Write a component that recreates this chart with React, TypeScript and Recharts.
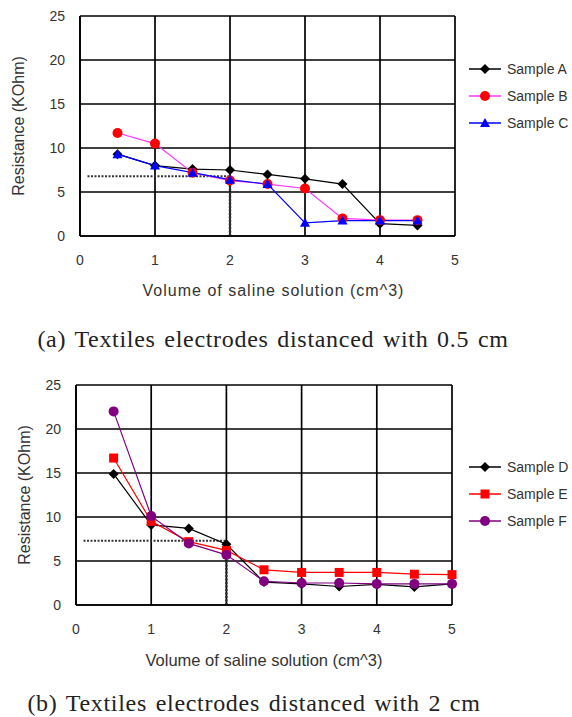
import React from 'react';
import {
  LineChart,
  Line,
  XAxis,
  YAxis,
  CartesianGrid,
  Legend,
  ReferenceLine,
  Label,
} from 'recharts';

// volumes (cm^3)
const volumesA = [0.5, 1, 1.5, 2, 2.5, 3, 3.5, 4, 4.5];
const volumesB = [0.5, 1, 1.5, 2, 2.5, 3, 3.5, 4, 4.5, 5];

// chart (a) - 0.5 cm
const sampleA = [9.3, 8.0, 7.6, 7.5, 7.0, 6.5, 5.9, 1.4, 1.2];
const sampleB = [11.7, 10.5, 7.2, 6.3, 5.9, 5.4, 2.0, 1.8, 1.8];
const sampleC = [9.3, 8.0, 7.2, 6.4, 5.9, 1.5, 1.75, 1.75, 1.75];

// chart (b) - 2 cm
const sampleD = [14.9, 9.1, 8.7, 6.9, 2.6, 2.4, 2.1, 2.35, 2.05, 2.4];
const sampleE = [16.7, 9.5, 7.2, 6.2, 4.0, 3.7, 3.7, 3.7, 3.5, 3.45];
const sampleF = [22.0, 10.1, 7.0, 5.7, 2.7, 2.5, 2.5, 2.4, 2.4, 2.4];

const xTicks = [0, 1, 2, 3, 4, 5];
const yTicks = [0, 5, 10, 15, 20, 25];

const dataA = volumesA.map((v, i) => ({ v, A: sampleA[i], B: sampleB[i], C: sampleC[i] }));
const dataB = volumesB.map((v, i) => ({ v, D: sampleD[i], E: sampleE[i], F: sampleF[i] }));

type Shape = 'diamond' | 'circle' | 'triangle' | 'square';
type Series = { key: string; name: string; line: string; fill: string; shape: Shape };

const seriesA: Series[] = [
  { key: 'A', name: 'Sample A', line: '#000000', fill: '#000000', shape: 'diamond' },
  { key: 'B', name: 'Sample B', line: '#ff33ff', fill: '#ff0000', shape: 'circle' },
  { key: 'C', name: 'Sample C', line: '#0000ff', fill: '#0000ff', shape: 'triangle' },
];
const seriesB: Series[] = [
  { key: 'D', name: 'Sample D', line: '#000000', fill: '#000000', shape: 'diamond' },
  { key: 'E', name: 'Sample E', line: '#ff0000', fill: '#ff0000', shape: 'square' },
  { key: 'F', name: 'Sample F', line: '#800080', fill: '#800080', shape: 'circle' },
];

const font = '"Liberation Sans", Arial, sans-serif';
const textColor = '#333';

function marker(shape: Shape, cx: number, cy: number, fill: string, key?: string) {
  if (shape === 'diamond')
    return <polygon key={key} points={`${cx},${cy - 5} ${cx + 5},${cy} ${cx},${cy + 5} ${cx - 5},${cy}`} fill={fill} />;
  if (shape === 'triangle')
    return <polygon key={key} points={`${cx},${cy - 5} ${cx + 5},${cy + 4} ${cx - 5},${cy + 4}`} fill={fill} />;
  if (shape === 'square')
    return <rect key={key} x={cx - 4.5} y={cy - 4.5} width={9} height={9} fill={fill} />;
  return <circle key={key} cx={cx} cy={cy} r={5} fill={fill} />;
}

function makeDot(s: Series) {
  return (p: any) => marker(s.shape, p.cx, p.cy, s.fill, `${s.key}-${p.index}`);
}

function LegendBox({ series }: { series: Series[] }) {
  return (
    <div style={{ fontFamily: font, fontSize: 14, color: textColor }}>
      {series.map((s) => (
        <div key={s.key} style={{ display: 'flex', alignItems: 'center', height: 27 }}>
          <svg width={34} height={12}>
            <line x1={0} y1={6} x2={32} y2={6} stroke={s.line} strokeWidth={1.5} />
            {marker(s.shape, 16, 6, s.fill)}
          </svg>
          <span style={{ marginLeft: 4 }}>{s.name}</span>
        </div>
      ))}
    </div>
  );
}

type ChartProps = {
  data: any[];
  series: Series[];
  top: number;
  left: number;
  right: number;
  marginTop: number;
  guideY: number;
  legendTop: number;
  yLabelX: number;
  xLabelFont: number;
  xLabelSpacing: number;
  xLabelDx: number;
};

function Chart(props: ChartProps) {
  const { data, series, top, left, right, marginTop, guideY, legendTop, yLabelX } = props;
  return (
    <div style={{ position: 'absolute', top, left: 0 }}>
      <LineChart
        width={572}
        height={300}
        data={data}
        margin={{ top: marginTop, right: 572 - right, left: 0, bottom: 0 }}
      >
        <CartesianGrid stroke="#000" strokeWidth={1.7} />
        <XAxis
          dataKey="v"
          type="number"
          domain={[0, 5]}
          ticks={xTicks}
          tickLine={false}
          tickSize={0}
          tickMargin={19}
          axisLine={{ stroke: '#000', strokeWidth: 1.7 }}
          tick={{ fill: textColor, fontSize: 14, fontFamily: font }}
          height={300 - marginTop - 220}
        >
          <Label
            value="Volume of saline solution (cm^3)"
            position="insideBottom"
            offset={4}
            dx={props.xLabelDx}
            style={{
              fill: textColor,
              fontSize: props.xLabelFont,
              fontFamily: font,
              letterSpacing: props.xLabelSpacing,
            }}
          />
        </XAxis>
        <YAxis
          type="number"
          domain={[0, 25]}
          ticks={yTicks}
          width={left}
          tickLine={false}
          tickSize={0}
          tickMargin={15}
          axisLine={{ stroke: '#000', strokeWidth: 1.7 }}
          tick={{ fill: textColor, fontSize: 14, fontFamily: font }}
        >
          <Label
            value="Resistance (KOhm)"
            angle={-90}
            position="insideLeft"
            offset={yLabelX}
            textAnchor="middle"
            style={{ fill: textColor, fontSize: 16, fontFamily: font, textAnchor: 'middle' }}
          />
        </YAxis>
        <ReferenceLine
          segment={[{ x: 0.1, y: guideY }, { x: 2, y: guideY }]}
          stroke="#333"
          strokeWidth={2}
          strokeDasharray="2 1.5"
        />
        <ReferenceLine
          segment={[{ x: 2, y: 0 }, { x: 2, y: guideY }]}
          stroke="#333"
          strokeWidth={2.5}
          strokeDasharray="2 1.5"
        />
        {series.map((s) => (
          <Line
            key={s.key}
            type="linear"
            dataKey={s.key}
            name={s.name}
            stroke={s.line}
            strokeWidth={1.2}
            dot={makeDot(s)}
            activeDot={false}
            isAnimationActive={false}
          />
        ))}
        <Legend
          layout="vertical"
          align="center"
          verticalAlign="middle"
          wrapperStyle={{ left: 469, top: legendTop, width: 110 }}
          content={() => <LegendBox series={series} />}
        />
      </LineChart>
    </div>
  );
}

const captionStyle: React.CSSProperties = {
  position: 'absolute',
  width: 540,
  textAlign: 'center',
  fontFamily: '"Liberation Serif", "Times New Roman", serif',
  fontSize: 24,
  letterSpacing: 0.7,
  wordSpacing: 2,
  color: '#222',
  whiteSpace: 'nowrap',
};

export default function App() {
  return (
    <div style={{ position: 'absolute', left: 0, top: 0, width: 572, height: 717, background: '#fff' }}>
      <Chart
        data={dataA}
        series={seriesA}
        top={0}
        left={80}
        right={455}
        marginTop={16}
        guideY={6.8}
        legendTop={55}
        yLabelX={18}
        xLabelFont={16}
        xLabelSpacing={1}
        xLabelDx={6}
      />
      <div style={{ ...captionStyle, left: 273 - 270, top: 326 }}>(a) Textiles electrodes distanced with 0.5 cm</div>
      <Chart
        data={dataB}
        series={seriesB}
        top={370}
        left={76}
        right={452}
        marginTop={15}
        guideY={7.3}
        legendTop={83}
        yLabelX={24}
        xLabelFont={16.5}
        xLabelSpacing={0}
        xLabelDx={0}
      />
      <div style={{ ...captionStyle, left: 254 - 270, top: 690 }}>(b) Textiles electrodes distanced with 2 cm</div>
    </div>
  );
}
